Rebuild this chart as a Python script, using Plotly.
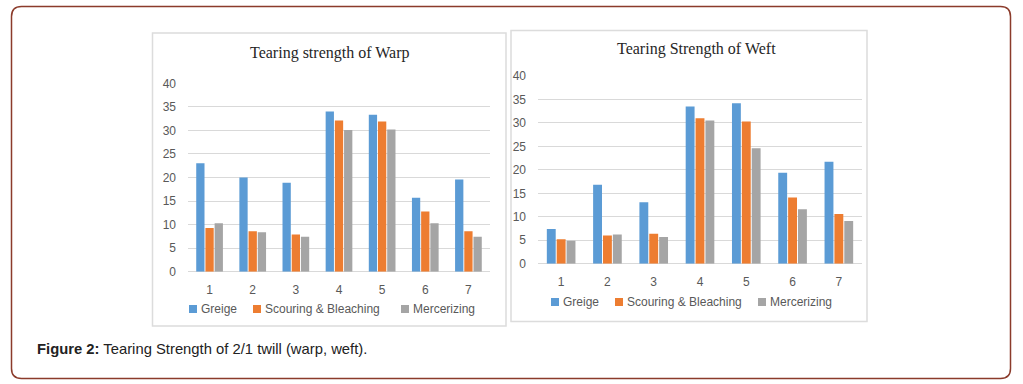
import plotly.graph_objects as go

W, H = 1023, 384

categories = ["1", "2", "3", "4", "5", "6", "7"]
series_names = ["Greige", "Scouring & Bleaching", "Mercerizing"]
series_colors = ["#5B9BD5", "#ED7D31", "#A5A5A5"]

warp_greige = [23.0, 20.0, 18.9, 34.0, 33.3, 15.7, 19.6]
warp_scouring = [9.3, 8.6, 7.9, 32.1, 31.9, 12.8, 8.6]
warp_mercerizing = [10.3, 8.4, 7.4, 30.1, 30.2, 10.3, 7.4]

weft_greige = [7.4, 16.8, 13.1, 33.5, 34.2, 19.4, 21.7]
weft_scouring = [5.2, 6.0, 6.4, 31.0, 30.3, 14.1, 10.6]
weft_mercerizing = [4.9, 6.2, 5.7, 30.5, 24.6, 11.6, 9.1]

y_ticks = [0, 5, 10, 15, 20, 25, 30, 35, 40]

title_warp = "Tearing strength of Warp"
title_weft = "Tearing Strength of Weft"
caption_bold = "Figure 2:"
caption_text = "Tearing Strength of 2/1 twill (warp, weft)."


def px(x):
    return x / W


def py(y):
    return 1 - y / H


fig = go.Figure()

warp = [warp_greige, warp_scouring, warp_mercerizing]
weft = [weft_greige, weft_scouring, weft_mercerizing]

for name, color, vals in zip(series_names, series_colors, warp):
    fig.add_trace(go.Bar(x=categories, y=vals, name=name, marker_color=color,
                         marker_line_width=0, showlegend=False,
                         xaxis="x", yaxis="y"))
for name, color, vals in zip(series_names, series_colors, weft):
    fig.add_trace(go.Bar(x=categories, y=vals, name=name, marker_color=color,
                         marker_line_width=0, showlegend=False,
                         xaxis="x2", yaxis="y2"))

tick_font = dict(family="Arial, Liberation Sans", size=12, color="#595959")
grid = "#D9D9D9"

common_y = dict(range=[0, 40], tickvals=y_ticks, showgrid=True, gridcolor=grid,
                gridwidth=1, zeroline=True, zerolinecolor=grid, zerolinewidth=1,
                showline=False, ticks="", tickfont=tick_font, automargin=False,
                ticklabelstandoff=11, fixedrange=True)
common_x = dict(type="category", showgrid=False, showline=False, ticks="",
                tickfont=tick_font, ticklabelstandoff=9, fixedrange=True,
                automargin=False)

fig.update_layout(
    width=W, height=H, autosize=False,
    margin=dict(l=0, r=0, t=0, b=0, pad=0),
    paper_bgcolor="white", plot_bgcolor="white",
    barmode="group", bargap=0.36, bargroupgap=0.1,
    xaxis=dict(domain=[px(188), px(490)], anchor="y", **common_x),
    yaxis=dict(domain=[py(271.7), py(83.3)], anchor="x", **common_y),
    xaxis2=dict(domain=[px(538), px(862)], anchor="y2", **common_x),
    yaxis2=dict(domain=[py(263.7), py(76)], anchor="x2", **common_y),
)

shapes = []
# outer rounded frame
x0, y0, x1, y1, r = 11.5, 6.5, 1010.5, 378.5, 10
path = (f"M {px(x0 + r)},{py(y0)} L {px(x1 - r)},{py(y0)} "
        f"Q {px(x1)},{py(y0)} {px(x1)},{py(y0 + r)} "
        f"L {px(x1)},{py(y1 - r)} Q {px(x1)},{py(y1)} {px(x1 - r)},{py(y1)} "
        f"L {px(x0 + r)},{py(y1)} Q {px(x0)},{py(y1)} {px(x0)},{py(y1 - r)} "
        f"L {px(x0)},{py(y0 + r)} Q {px(x0)},{py(y0)} {px(x0 + r)},{py(y0)} Z")
shapes.append(dict(type="path", xref="paper", yref="paper", path=path,
                   line=dict(color="#8B3B2B", width=1.5), layer="below"))
# panel boxes
for bx0, by0, bx1, by1 in [(152.5, 33, 506, 326), (511, 30.5, 867, 321.5)]:
    shapes.append(dict(type="rect", xref="paper", yref="paper",
                       x0=px(bx0), x1=px(bx1), y0=py(by1), y1=py(by0),
                       line=dict(color="#DCDCDC", width=1.5), layer="below"))

annotations = []
title_font = dict(family="Liberation Serif, Times New Roman, serif", size=16,
                  color="#262626")
annotations.append(dict(text=title_warp, x=px(329), y=py(53.5), xref="paper",
                        yref="paper", showarrow=False, font=title_font,
                        xanchor="center", yanchor="middle"))
annotations.append(dict(text=title_weft, x=px(696), y=py(48.5), xref="paper",
                        yref="paper", showarrow=False, font=title_font,
                        xanchor="center", yanchor="middle"))

# legends (square swatch + label), positions per panel
legend_layout = [
    (309, [189, 253, 401]),
    (302, [551, 615, 758]),
]
for ly, xs in legend_layout:
    for name, color, lx in zip(series_names, series_colors, xs):
        shapes.append(dict(type="rect", xref="paper", yref="paper",
                           x0=px(lx), x1=px(lx + 8), y0=py(ly + 4), y1=py(ly - 4),
                           line=dict(width=0), fillcolor=color))
        annotations.append(dict(text=name, x=px(lx + 10), y=py(ly), xref="paper",
                                yref="paper", showarrow=False, font=tick_font,
                                xanchor="left", yanchor="middle"))

annotations.append(dict(text=f"<b>{caption_bold}</b> {caption_text}",
                        x=px(35), y=py(349), xref="paper", yref="paper",
                        showarrow=False, xanchor="left", yanchor="middle",
                        font=dict(family="Arial, Liberation Sans", size=14.8,
                                  color="#222222")))

fig.update_layout(shapes=shapes, annotations=annotations)

fig.write_html(
    "out.html",
    config={"displayModeBar": False, "staticPlot": True},
    post_script="document.body.style.margin='0';"
                "document.documentElement.style.overflow='hidden';"
                "document.body.style.overflow='hidden';",
)
